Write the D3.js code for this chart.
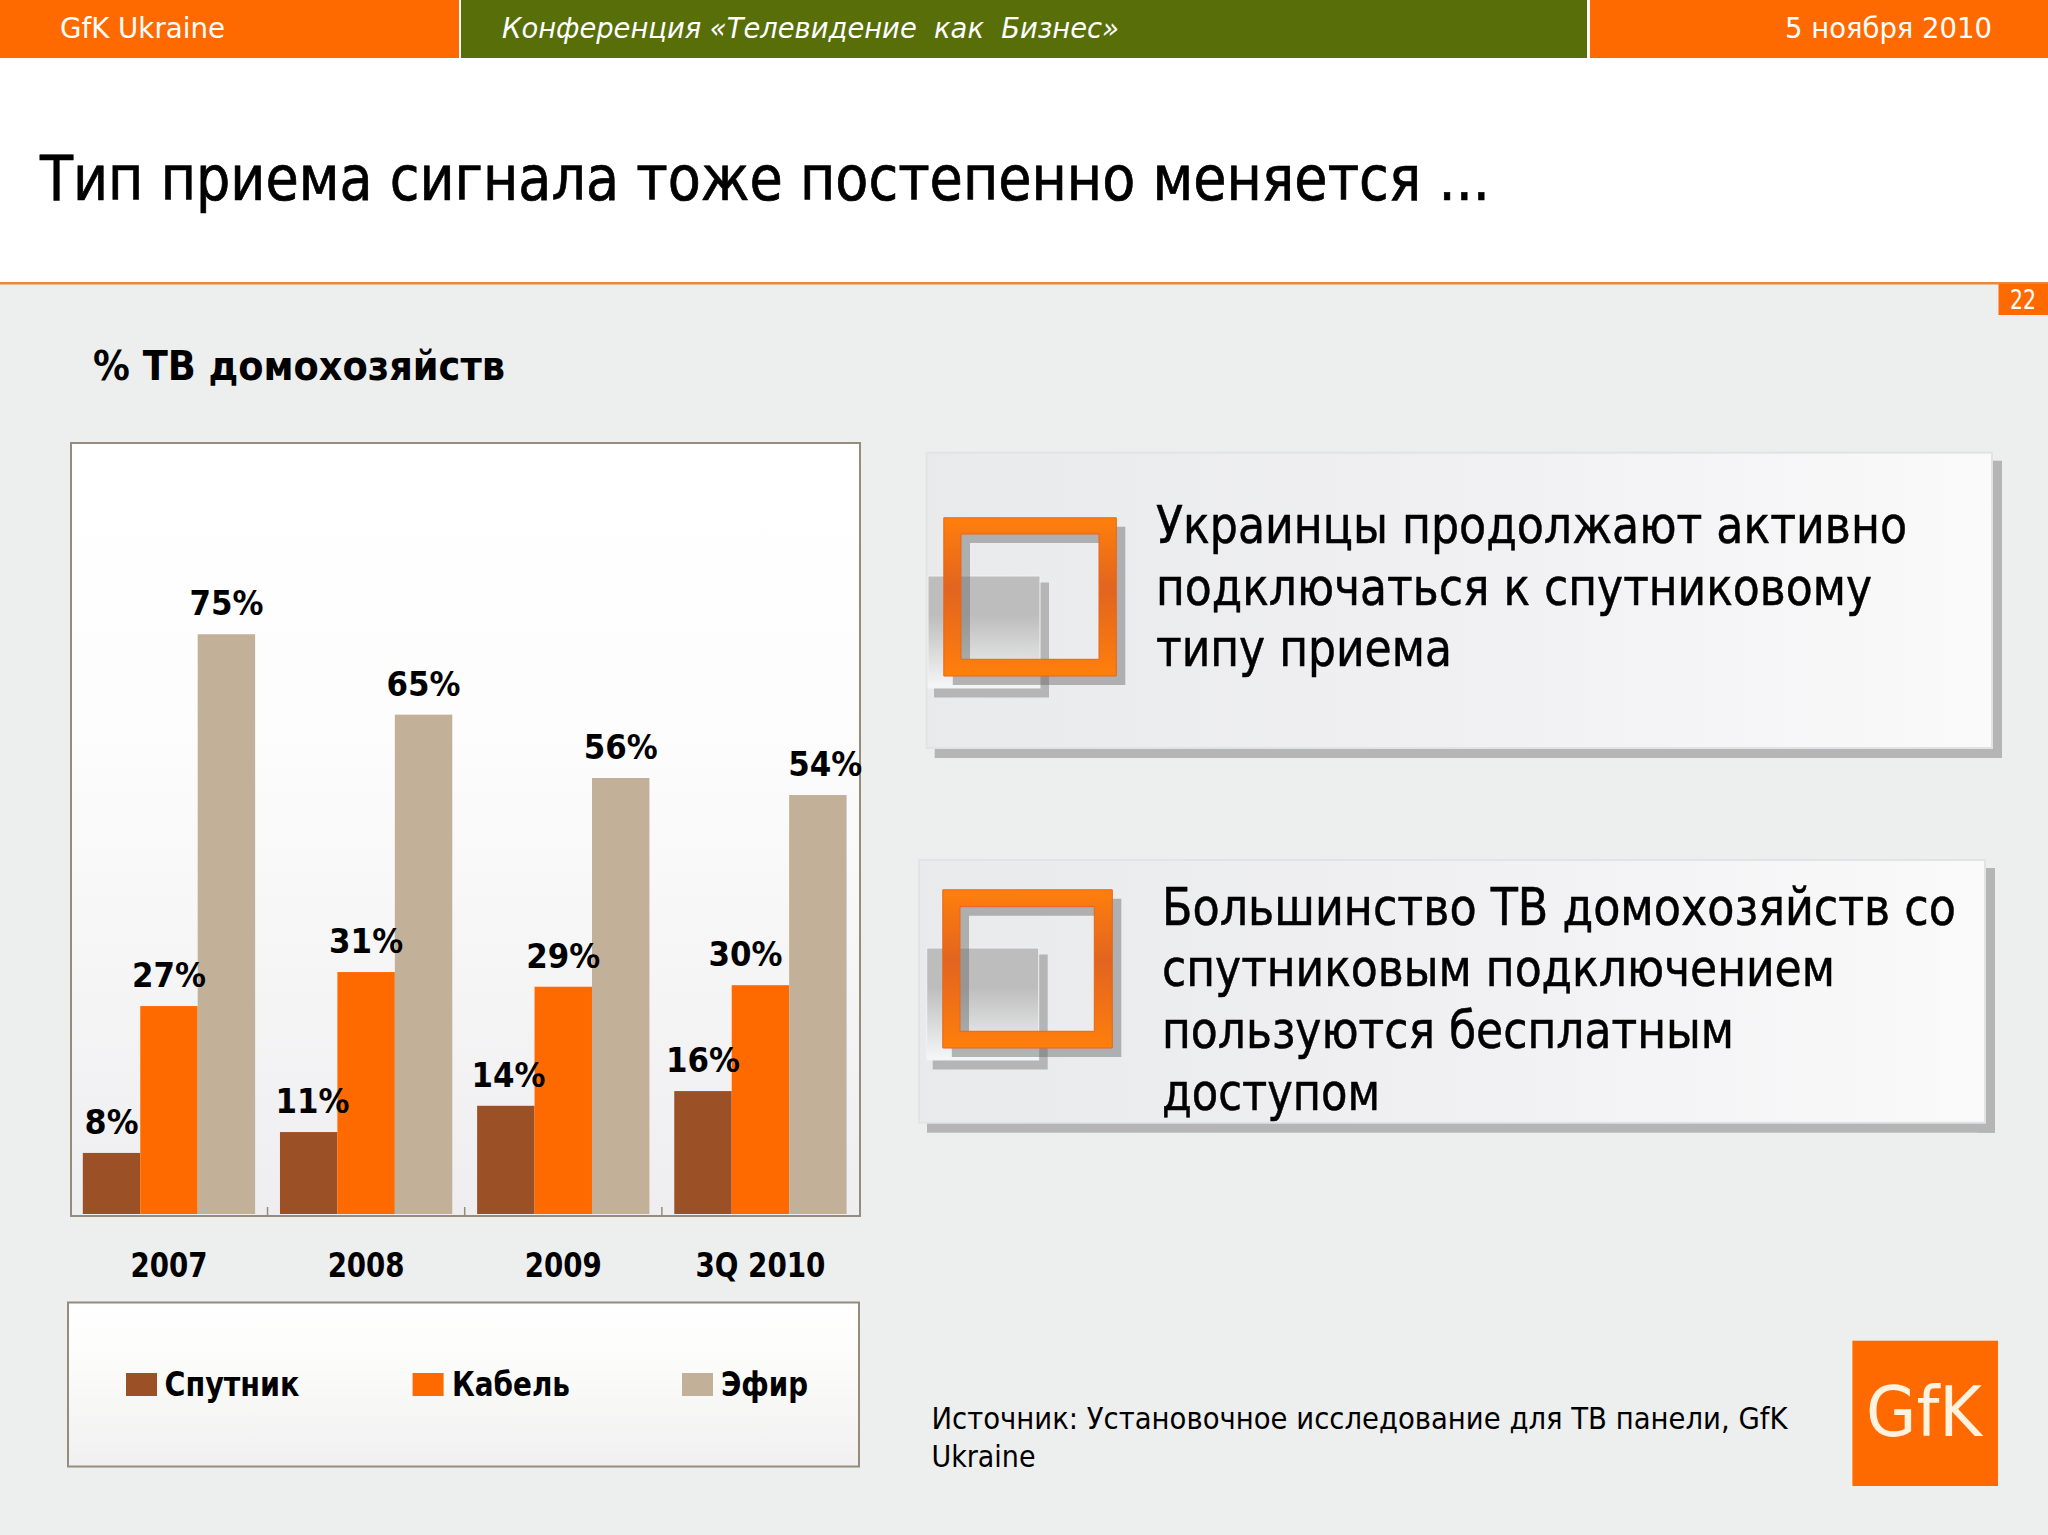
<!DOCTYPE html>
<html lang="ru">
<head>
<meta charset="utf-8">
<title>Тип приема сигнала</title>
<script src="https://cdn.jsdelivr.net/npm/d3@7/dist/d3.min.js"></script>
<style>
  html, body { margin: 0; padding: 0; background: #edeeee; }
  svg { display: block; }
  text { font-family: "DejaVu Sans Condensed", "DejaVu Sans", sans-serif; font-stretch: condensed; fill: #000; white-space: pre; }
  .wide { font-family: "DejaVu Sans", sans-serif; font-stretch: normal; font-weight: 700; }
</style>
</head>
<body>
<div id="chart"></div>
<script>
// ===== data =====
const periods = ["2007", "2008", "2009", "3Q 2010"];
const seriesNames = ["Спутник", "Кабель", "Эфир"];
// the labels on the slide are these values rounded
const satellite = [7.9, 10.6, 14, 15.9];
const cable = [26.9, 31.3, 29.4, 29.6];
const terrestrial = [75, 64.6, 56.4, 54.2];

const calloutOne = ["Украинцы продолжают активно", "подключаться к спутниковому", "типу приема"];
const calloutTwo = ["Большинство ТВ домохозяйств со", "спутниковым подключением", "пользуются бесплатным", "доступом"];

const ORANGE = "#ff6a00", GREEN = "#586e08", FRAME = "#968c7c";
const seriesColor = d3.scaleOrdinal().domain(seriesNames).range(["#9c5026", ORANGE, "#c2b098"]);

const svg = d3.select("#chart").append("svg").attr("width", 2048).attr("height", 1535);
const defs = svg.append("defs");

function gradient(id, stops, horizontal) {
  const g = defs.append("linearGradient").attr("id", id)
    .attr("x1", 0).attr("y1", 0).attr("x2", horizontal ? 1 : 0).attr("y2", horizontal ? 0 : 1);
  stops.forEach(([o, c]) => g.append("stop").attr("offset", o).attr("stop-color", c));
}
gradient("panel", [[0, "#ffffff"], [0.35, "#fdfdfd"], [1, "#eeeef0"]]);
gradient("legendPanel", [[0, "#ffffff"], [0.4, "#fbfbfa"], [1, "#f0f0f0"]]);
gradient("callout", [[0, "#e9eaec"], [0.5, "#f0f0f2"], [1, "#fafafb"]], true);
gradient("ring", [[0, "#ff7f0c"], [0.45, "#e2641f"], [1, "#ff7f0c"]]);
gradient("chip", [[0, "#bdbdbd"], [0.35, "#bdbdbd"], [1, "#f6f7f8"]]);

function rect(parent, x0, y0, x1, y1, fill) {
  return parent.append("rect").attr("x", x0).attr("y", y0)
    .attr("width", x1 - x0).attr("height", y1 - y0).attr("fill", fill);
}
// text fitted to the width measured in the reference
function label(parent, str, x, y, size, width, opts = {}) {
  const t = parent.append("text").attr("x", x).attr("y", y).attr("font-size", size)
    .attr("font-weight", opts.bold ? 700 : 400).attr("font-style", opts.italic ? "italic" : null)
    .style("fill", opts.fill || "#000").text(str);
  if (width) t.attr("textLength", width).attr("lengthAdjust", "spacingAndGlyphs");
  if (opts.heavy) t.attr("stroke", "#000").attr("stroke-width", opts.heavy);
  return t;
}

// ===== slide frame =====
rect(svg, 0, 0, 2048, 1535, "#edeeee");
rect(svg, 0, 0, 2048, 283, "#ffffff");
rect(svg, 0, 282, 2048, 284.5, "#e9873f");
rect(svg, 0, 0, 459, 58, ORANGE);
rect(svg, 461, 0, 1587, 58, GREEN);
rect(svg, 1590, 0, 2048, 58, ORANGE);
label(svg, "GfK Ukraine", 60, 38, 29, 165, { fill: "#fff" });
label(svg, "Конференция «Телевидение  как  Бизнес»", 502, 38, 29, 617, { fill: "#fff", italic: true });
label(svg, "5 ноября 2010", 1785, 38, 29, 207, { fill: "#fff" });
label(svg, "Тип приема сигнала тоже постепенно меняется ...", 40, 200, 62, 1450, { heavy: 0.7 });
rect(svg, 1998.5, 284, 2048, 315, ORANGE);
label(svg, "22", 2010, 309, 26, 26, { fill: "#fff" });
label(svg, "% ТВ домохозяйств", 93, 380, 41, 412, { bold: true });

// ===== bar chart =====
const frame = { left: 71, right: 860, top: 443, bottom: 1216 };
const baseline = 1214;

rect(svg, frame.left, frame.top, frame.right, frame.bottom, "url(#panel)")
  .attr("stroke", FRAME).attr("stroke-width", 2);

const x = d3.scaleBand().domain(periods).range([70.4, 859])
  .paddingInner(0.126).paddingOuter(0.063);
const xSeries = d3.scaleBand().domain(seriesNames).range([0, x.bandwidth()]);
const y = d3.scaleLinear().domain([0, 100]).range([baseline, baseline - 773]);

const rows = periods.map((p, i) => ({
  period: p,
  values: [satellite[i], cable[i], terrestrial[i]].map((v, k) => ({ series: seriesNames[k], value: v, period: p }))
}));

const groups = svg.append("g").selectAll("g").data(rows).join("g")
  .attr("transform", d => `translate(${x(d.period)},0)`);

groups.selectAll("rect").data(d => d.values).join("rect")
  .attr("x", d => xSeries(d.series))
  .attr("y", d => y(d.value))
  .attr("width", xSeries.bandwidth())
  .attr("height", d => y(0) - y(d.value))
  .attr("fill", d => seriesColor(d.series));

// some labels are pushed sideways in the source so they clear the next bar
const labelNudge = { "2008|Спутник": 3.7, "2009|Спутник": 2.7, "3Q 2010|Кабель": -15, "3Q 2010|Эфир": 7.5 };
groups.selectAll("text").data(d => d.values).join("text")
  .attr("class", "wide")
  .attr("x", d => xSeries(d.series) + xSeries.bandwidth() / 2 + (labelNudge[d.period + "|" + d.series] || 0))
  .attr("y", d => y(d.value) - 19)
  .attr("text-anchor", "middle")
  .attr("font-size", 33)
  .attr("textLength", d => (Math.round(d.value) < 10 ? 54 : 74))
  .attr("lengthAdjust", "spacingAndGlyphs")
  .text(d => Math.round(d.value) + "%");

// category axis, ticks sit between the groups
const axis = svg.append("g").attr("transform", `translate(0,${frame.bottom})`)
  .call(d3.axisBottom(x).tickSize(0).tickSizeOuter(0));
axis.select(".domain").remove();
axis.selectAll("text")
  .attr("y", 61).attr("dy", 0)
  .attr("font-size", 34).attr("font-weight", 700)
  .attr("textLength", d => (d.length > 4 ? 130 : 77))
  .attr("lengthAdjust", "spacingAndGlyphs")
  .style("font-family", '"DejaVu Sans Condensed", "DejaVu Sans", sans-serif');

svg.append("g").selectAll("line").data(periods.slice(1)).join("line")
  .attr("x1", d => x(d) - x.step() * 0.063).attr("x2", d => x(d) - x.step() * 0.063)
  .attr("y1", frame.bottom - 9).attr("y2", frame.bottom)
  .attr("stroke", FRAME).attr("stroke-width", 1.5);

// ===== legend =====
rect(svg, 68, 1302.5, 859, 1466.5, "url(#legendPanel)")
  .attr("stroke", FRAME).attr("stroke-width", 2);
const legendPos = [
  { sw: 126, tx: 164.5, w: 135 },
  { sw: 412.6, tx: 452, w: 118 },
  { sw: 682, tx: 721, w: 87 }
];
seriesNames.forEach((name, i) => {
  rect(svg, legendPos[i].sw, 1373, legendPos[i].sw + 31, 1396, seriesColor(name));
  label(svg, name, legendPos[i].tx, 1396, 34, legendPos[i].w, { bold: true });
});

// ===== callouts =====
function callout(box, icon, lines, widths, textX, baselines) {
  const g = svg.append("g");
  rect(g, box.x0 + 8, box.y1 - 8, box.x1 + 10, box.y1 + 10, "#b5b5b6");
  rect(g, box.x1 - 8, box.y0 + 8, box.x1 + 10, box.y1 + 10, "#b5b5b6");
  rect(g, box.x0, box.y0, box.x1, box.y1, "url(#callout)")
    .attr("stroke", "#e2e3e4").attr("stroke-width", 2);

  // small grey square with its shadow
  const cs = 112;
  rect(g, icon.cx + 6, icon.cy + 6.5, icon.cx + cs + 9, icon.cy + cs + 9.5, "#b5b5b6");
  rect(g, icon.cx, icon.cy, icon.cx + cs, icon.cy + cs, "url(#chip)")
    .attr("stroke", "#f1f2f3").attr("stroke-width", 1);

  // orange ring with a translucent shadow, both drawn as frames
  const ring = (dx, dy) =>
    `M${icon.x0 + dx},${icon.y0 + dy}H${icon.x1 + dx}V${icon.y1 + dy}H${icon.x0 + dx}Z` +
    `M${icon.hx0 + dx},${icon.hy0 + dy}V${icon.hy1 + dy}H${icon.hx1 + dx}V${icon.hy0 + dy}Z`;
  g.append("path").attr("d", ring(9, 9)).attr("fill", "#666").attr("fill-opacity", 0.45).attr("fill-rule", "evenodd");
  g.append("path").attr("d", ring(0, 0)).attr("fill", "url(#ring)").attr("fill-rule", "evenodd")
    .attr("stroke", "#e5661c").attr("stroke-width", 1).attr("stroke-linejoin", "round");

  lines.forEach((line, i) => label(g, line, textX, baselines[i], 51, widths[i], { heavy: 0.5 }));
}

callout(
  { x0: 926.7, y0: 452.7, x1: 1992, y1: 748 },
  { x0: 943.8, y0: 517.8, x1: 1116.3, y1: 676, hx0: 961, hy0: 534, hx1: 1099, hy1: 659.3, cx: 928, cy: 576 },
  calloutOne, [751, 716, 296], 1156, [543, 605, 666]
);
callout(
  { x0: 919, y0: 860, x1: 1985, y1: 1122.7 },
  { x0: 942.8, y0: 889.8, x1: 1112.3, y1: 1048, hx0: 960, hy0: 906.7, hx1: 1094.3, hy1: 1031.3, cx: 926.7, cy: 948 },
  calloutTwo, [794, 673, 572, 218], 1162, [925, 986, 1048, 1109.5]
);

// ===== footer =====
label(svg, "Источник: Установочное исследование для ТВ панели, GfK", 931.5, 1429, 30, 856);
label(svg, "Ukraine", 931.5, 1466.5, 30, 104);
rect(svg, 1852.4, 1340.7, 1998, 1486, ORANGE);
label(svg, "GfK", 1866, 1435.7, 70, 116, { fill: "#fff3df" });
</script>
</body>
</html>
